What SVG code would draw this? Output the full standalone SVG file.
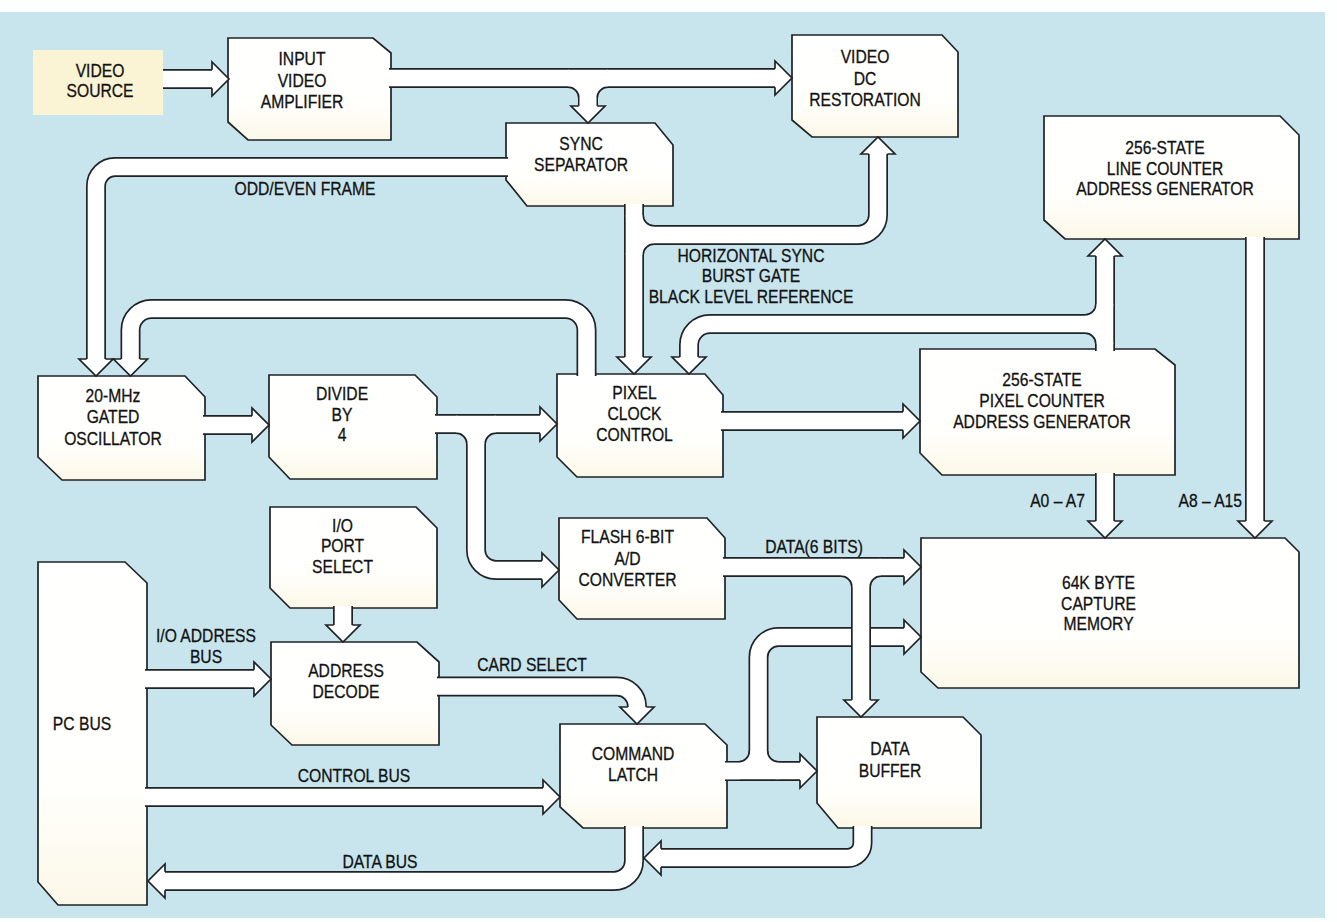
<svg xmlns="http://www.w3.org/2000/svg" width="1337" height="922" viewBox="0 0 1337 922">
<style>
.node{fill:url(#nf);stroke:#1f2326;stroke-width:1.7;stroke-linejoin:miter}
.t{font-family:"Liberation Sans",Arial,sans-serif;font-size:18px;fill:#121212;stroke:#121212;stroke-width:0.3;text-anchor:middle}
.te{text-anchor:end}
.o{fill:none;stroke:#1f2326;stroke-width:20}
.w{fill:none;stroke:#ffffff;stroke-width:16.6}
.h{fill:#ffffff;stroke:#1f2326;stroke-width:1.7;stroke-linejoin:miter}
</style>
<defs>
<linearGradient id="nf" x1="0" y1="0" x2="0" y2="1">
<stop offset="0" stop-color="#ffffff"/>
<stop offset="0.65" stop-color="#fffffc"/>
<stop offset="1" stop-color="#fcf8e8"/>
</linearGradient>
<path id="ah" d="M-17,-9.3 L-17,-17 L0,0 L-17,17 L-17,9.3"/>
<path id="c1" d="M163 79 H212"/>
<path id="c2a" d="M389 78 H775"/>
<path id="c2b" d="M568 78 A20 20 0 0 1 588 98 V106"/>
<path id="c2c" d="M608 78 A20 20 0 0 0 588 98 V106"/>
<path id="c3" d="M508 167 H115 A19 19 0 0 0 96 186 V359"/>
<path id="c4" d="M586.5 376 V330 A21 21 0 0 0 565.5 309 H151.5 A21 21 0 0 0 130.5 330 V359"/>
<path id="c5a" d="M634 204 V357"/>
<path id="c5b" d="M634 215 A20 20 0 0 0 654 235 H858 A20 20 0 0 0 878 215 V154"/>
<path id="c5c" d="M634 255 A20 20 0 0 1 654 235"/>
<path id="c6a" d="M1105 351 V256"/>
<path id="c6b" d="M1105 344 A20 20 0 0 0 1085 324 H710 A21 21 0 0 0 689 345 V357"/>
<path id="c6c" d="M1105 304 A20 20 0 0 1 1085 324"/>
<path id="c7" d="M203 425 H252"/>
<path id="c8a" d="M435 424 H540"/>
<path id="c8b" d="M456 424 A20 20 0 0 1 476 444 V550 A20 20 0 0 0 496 570 H542"/>
<path id="c8c" d="M496 424 A20 20 0 0 0 476 444"/>
<path id="c9" d="M721 421 H903"/>
<path id="c10" d="M1105 473 V521"/>
<path id="c11" d="M1255 237 V521"/>
<path id="c12a" d="M723 567 H904"/>
<path id="c12b" d="M841 567 A20 20 0 0 1 861 587 V700"/>
<path id="c12c" d="M881 567 A20 20 0 0 0 861 587"/>
<path id="c13a" d="M725 771 H800"/>
<path id="c13b" d="M725 771 H738.5 A20 20 0 0 0 758.5 751 V657 A20 20 0 0 1 778.5 637 H904"/>
<path id="c13c" d="M778.5 771 A20 20 0 0 1 758.5 751"/>
<path id="c14a" d="M634 826 V861 A20 20 0 0 1 614 881 H165"/>
<path id="c14b" d="M862.5 826 V843 A15 15 0 0 1 847.5 858 H661"/>
<path id="c15" d="M145 679 H254"/>
<path id="c16" d="M343 606 V625"/>
<path id="c17" d="M437 686.5 H617 A20 20 0 0 1 637 706.5 V707"/>
<path id="c18" d="M145 797 H543"/>
</defs>

<rect x="0" y="0" width="1337" height="922" fill="#fdfefe"/>
<rect x="0" y="12" width="1325" height="906" fill="#c8e5ed"/>

<g id="nodes">
<g id="n-video-source">
<rect x="33" y="50" width="130" height="65" fill="#fbf4d4"/>
<text class="t" transform="translate(100 0) scale(.87 1)"><tspan x="0" y="77">VIDEO</tspan><tspan x="0" y="97">SOURCE</tspan></text>
</g>
<g id="n-input-amp">
<polygon class="node" points="228,38 373,38 391,53 391,140 248,140 228,122"/>
<text class="t" transform="translate(302 0) scale(.87 1)"><tspan x="0" y="65">INPUT</tspan><tspan x="0" y="87">VIDEO</tspan><tspan x="0" y="108">AMPLIFIER</tspan></text>
</g>
<g id="n-dc-restoration">
<polygon class="node" points="792,35 942,35 958,52 958,137 812,137 792,120"/>
<text class="t" transform="translate(865 0) scale(.87 1)"><tspan x="0" y="63">VIDEO</tspan><tspan x="0" y="85">DC</tspan><tspan x="0" y="106">RESTORATION</tspan></text>
</g>
<g id="n-sync-separator">
<polygon class="node" points="506,123 655,123 673,145 673,206 527,206 506,180"/>
<text class="t" transform="translate(581 0) scale(.87 1)"><tspan x="0" y="150">SYNC</tspan><tspan x="0" y="171">SEPARATOR</tspan></text>
</g>
<g id="n-line-counter">
<polygon class="node" points="1044,116 1280,116 1299,135 1299,239 1065,239 1044,220"/>
<text class="t" transform="translate(1165 0) scale(.87 1)"><tspan x="0" y="154">256-STATE</tspan><tspan x="0" y="175">LINE COUNTER</tspan><tspan x="0" y="195">ADDRESS GENERATOR</tspan></text>
</g>
<g id="n-oscillator">
<polygon class="node" points="38,376 185,376 205,397 205,480 62,480 38,457"/>
<text class="t" transform="translate(113 0) scale(.87 1)"><tspan x="0" y="402">20-MHz</tspan><tspan x="0" y="423">GATED</tspan><tspan x="0" y="445">OSCILLATOR</tspan></text>
</g>
<g id="n-divide">
<polygon class="node" points="269,375 415,375 437,397 437,479 290,479 269,457"/>
<text class="t" transform="translate(342 0) scale(.87 1)"><tspan x="0" y="400">DIVIDE</tspan><tspan x="0" y="421">BY</tspan><tspan x="0" y="441">4</tspan></text>
</g>
<g id="n-port-select">
<polygon class="node" points="270,507 416,507 437,528 437,608 290,608 270,588"/>
<text class="t" transform="translate(342.5 0) scale(.87 1)"><tspan x="0" y="532">I/O</tspan><tspan x="0" y="552">PORT</tspan><tspan x="0" y="573">SELECT</tspan></text>
</g>
<g id="n-pc-bus">
<polygon class="node" points="38,562 125,562 147,583 147,905 58,905 38,882"/>
<text class="t" transform="translate(82 0) scale(.87 1)"><tspan x="0" y="730">PC BUS</tspan></text>
</g>
<g id="n-address-decode">
<polygon class="node" points="271,642 417,642 439,662 439,745 292,745 271,725"/>
<text class="t" transform="translate(346 0) scale(.87 1)"><tspan x="0" y="677">ADDRESS</tspan><tspan x="0" y="698">DECODE</tspan></text>
</g>
<g id="n-pixel-clock">
<polygon class="node" points="557,374 705,374 723,395 723,477 577,477 557,457"/>
<text class="t" transform="translate(634.5 0) scale(.87 1)"><tspan x="0" y="399">PIXEL</tspan><tspan x="0" y="420">CLOCK</tspan><tspan x="0" y="441">CONTROL</tspan></text>
</g>
<g id="n-flash-adc">
<polygon class="node" points="559,518 707,518 725,538 725,619 577,619 559,600"/>
<text class="t" transform="translate(627.5 0) scale(.87 1)"><tspan x="0" y="543">FLASH 6-BIT</tspan><tspan x="0" y="565">A/D</tspan><tspan x="0" y="586">CONVERTER</tspan></text>
</g>
<g id="n-pixel-counter">
<polygon class="node" points="920,349 1155,349 1175,365 1175,475 942,475 920,453"/>
<text class="t" transform="translate(1042 0) scale(.87 1)"><tspan x="0" y="386">256-STATE</tspan><tspan x="0" y="407">PIXEL COUNTER</tspan><tspan x="0" y="428">ADDRESS GENERATOR</tspan></text>
</g>
<g id="n-memory">
<polygon class="node" points="921,538 1285,538 1299,552 1299,688 938,688 921,672"/>
<text class="t" transform="translate(1098.5 0) scale(.87 1)"><tspan x="0" y="589">64K BYTE</tspan><tspan x="0" y="610">CAPTURE</tspan><tspan x="0" y="630">MEMORY</tspan></text>
</g>
<g id="n-command-latch">
<polygon class="node" points="560,724 705,724 727,745 727,828 583,828 560,807"/>
<text class="t" transform="translate(633 0) scale(.87 1)"><tspan x="0" y="760">COMMAND</tspan><tspan x="0" y="781">LATCH</tspan></text>
</g>
<g id="n-data-buffer">
<polygon class="node" points="817,717 963,717 981,735 981,828 838,828 817,803"/>
<text class="t" transform="translate(890 0) scale(.87 1)"><tspan x="0" y="755">DATA</tspan><tspan x="0" y="777">BUFFER</tspan></text>
</g>
</g>

<g id="connectors">
<g id="e-source-amp"><use href="#c1" class="o"/><use href="#c1" class="w"/><use href="#ah" class="h" transform="translate(229 79)"/></g>
<g id="e-amp-dc-sync"><use href="#c2a" class="o"/><use href="#c2b" class="o"/><use href="#c2c" class="o"/><use href="#c2a" class="w"/><use href="#c2b" class="w"/><use href="#c2c" class="w"/><use href="#ah" class="h" transform="translate(792 78)"/><use href="#ah" class="h" transform="translate(588 123) rotate(90)"/></g>
<g id="e-sync-osc"><use href="#c3" class="o"/><use href="#c3" class="w"/><use href="#ah" class="h" transform="translate(96 376) rotate(90)"/></g>
<g id="e-pixclk-osc"><use href="#c4" class="o"/><use href="#c4" class="w"/><use href="#ah" class="h" transform="translate(130.5 376) rotate(90)"/></g>
<g id="e-sync-pixclk-dc"><use href="#c5a" class="o"/><use href="#c5b" class="o"/><use href="#c5c" class="o"/><use href="#c5a" class="w"/><use href="#c5b" class="w"/><use href="#c5c" class="w"/><use href="#ah" class="h" transform="translate(634 374) rotate(90)"/><use href="#ah" class="h" transform="translate(878 137) rotate(-90)"/></g>
<g id="e-pixcnt-line-pixclk"><use href="#c6a" class="o"/><use href="#c6b" class="o"/><use href="#c6c" class="o"/><use href="#c6a" class="w"/><use href="#c6b" class="w"/><use href="#c6c" class="w"/><use href="#ah" class="h" transform="translate(1105 239) rotate(-90)"/><use href="#ah" class="h" transform="translate(689 374) rotate(90)"/></g>
<g id="e-osc-divide"><use href="#c7" class="o"/><use href="#c7" class="w"/><use href="#ah" class="h" transform="translate(269 425)"/></g>
<g id="e-divide-pixclk-flash"><use href="#c8a" class="o"/><use href="#c8b" class="o"/><use href="#c8c" class="o"/><use href="#c8a" class="w"/><use href="#c8b" class="w"/><use href="#c8c" class="w"/><use href="#ah" class="h" transform="translate(557 424)"/><use href="#ah" class="h" transform="translate(559 570)"/></g>
<g id="e-pixclk-pixcnt"><use href="#c9" class="o"/><use href="#c9" class="w"/><use href="#ah" class="h" transform="translate(920 421)"/></g>
<g id="e-pixcnt-mem"><use href="#c10" class="o"/><use href="#c10" class="w"/><use href="#ah" class="h" transform="translate(1105 538) rotate(90)"/></g>
<g id="e-line-mem"><use href="#c11" class="o"/><use href="#c11" class="w"/><use href="#ah" class="h" transform="translate(1255 538) rotate(90)"/></g>
<g id="e-latch-buffer-mem"><use href="#c13a" class="o"/><use href="#c13b" class="o"/><use href="#c13c" class="o"/><use href="#c13a" class="w"/><use href="#c13b" class="w"/><use href="#c13c" class="w"/><use href="#ah" class="h" transform="translate(817 771)"/><use href="#ah" class="h" transform="translate(921 637)"/></g>
<g id="e-flash-mem-buffer"><use href="#c12a" class="o"/><use href="#c12b" class="o"/><use href="#c12c" class="o"/><use href="#c12a" class="w"/><use href="#c12b" class="w"/><use href="#c12c" class="w"/><use href="#ah" class="h" transform="translate(921 567)"/><use href="#ah" class="h" transform="translate(861 717) rotate(90)"/></g>
<g id="e-databus"><use href="#c14a" class="o"/><use href="#c14b" class="o"/><use href="#c14a" class="w"/><use href="#c14b" class="w"/><use href="#ah" class="h" transform="translate(148 881) rotate(180)"/><use href="#ah" class="h" transform="translate(644 858) rotate(180)"/></g>
<g id="e-pcbus-decode"><use href="#c15" class="o"/><use href="#c15" class="w"/><use href="#ah" class="h" transform="translate(271 679)"/></g>
<g id="e-port-decode"><use href="#c16" class="o"/><use href="#c16" class="w"/><use href="#ah" class="h" transform="translate(343 642) rotate(90)"/></g>
<g id="e-decode-latch"><use href="#c17" class="o"/><use href="#c17" class="w"/><use href="#ah" class="h" transform="translate(637 724) rotate(90)"/></g>
<g id="e-pcbus-latch"><use href="#c18" class="o"/><use href="#c18" class="w"/><use href="#ah" class="h" transform="translate(560 797)"/></g>
</g>

<g id="labels">
<text class="t" transform="translate(305 0) scale(.87 1)"><tspan x="0" y="195">ODD/EVEN FRAME</tspan></text>
<text class="t" transform="translate(751 0) scale(.87 1)"><tspan x="0" y="262">HORIZONTAL SYNC</tspan><tspan x="0" y="282">BURST GATE</tspan><tspan x="0" y="303">BLACK LEVEL REFERENCE</tspan></text>
<text class="t" transform="translate(814 0) scale(.87 1)"><tspan x="0" y="553">DATA(6 BITS)</tspan></text>
<text class="t te" transform="translate(1085 0) scale(.87 1)"><tspan x="0" y="507">A0 – A7</tspan></text>
<text class="t te" transform="translate(1242 0) scale(.87 1)"><tspan x="0" y="507">A8 – A15</tspan></text>
<text class="t" transform="translate(206 0) scale(.87 1)"><tspan x="0" y="642">I/O ADDRESS</tspan><tspan x="0" y="663">BUS</tspan></text>
<text class="t" transform="translate(532 0) scale(.87 1)"><tspan x="0" y="671">CARD SELECT</tspan></text>
<text class="t" transform="translate(354 0) scale(.87 1)"><tspan x="0" y="782">CONTROL BUS</tspan></text>
<text class="t" transform="translate(380 0) scale(.87 1)"><tspan x="0" y="868">DATA BUS</tspan></text>
</g>
</svg>
